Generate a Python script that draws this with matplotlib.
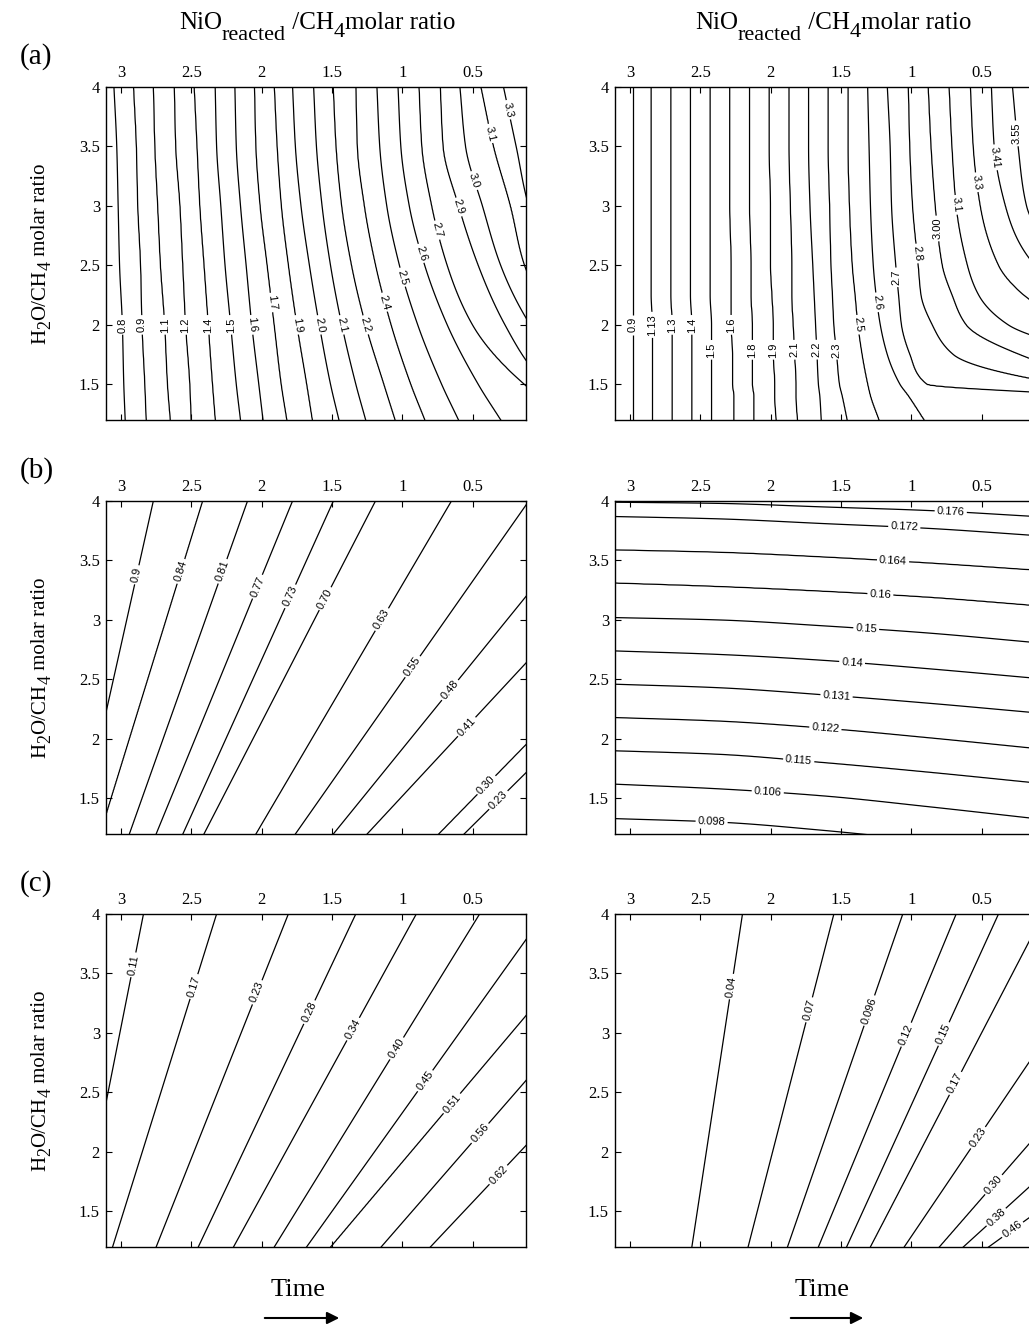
import numpy as np
import matplotlib.pyplot as plt
from matplotlib.patches import FancyArrowPatch

plt.rcParams['font.family'] = ['Liberation Serif', 'DejaVu Serif']

# axis ticks shared by all six panels
x_ticks = [3, 2.5, 2, 1.5, 1, 0.5]
x_ticklabels = ['3', '2.5', '2', '1.5', '1', '0.5']
y_ticks = [1.5, 2, 2.5, 3, 3.5, 4]
y_ticklabels = ['1.5', '2', '2.5', '3', '3.5', '4']

# ---- (a) left: x position of each contour at the rows y = a1_rows
a1_rows = [4.0, 3.5, 3.0, 2.5, 2.0, 1.5, 1.2]
a1_levels = [0.8, 0.9, 1.1, 1.2, 1.4, 1.5, 1.6, 1.7, 1.9, 2.0, 2.1, 2.2, 2.4, 2.5, 2.6, 2.7, 2.9, 3.0, 3.1, 3.3]
a1_labels = ['0.8', '0.9', '1.1', '1.2', '1.4', '1.5', '1.6', '1.7', '1.9', '2.0', '2.1', '2.2', '2.4', '2.5', '2.6',
             '2.7', '2.9', '3.0', '3.1', '3.3']
a1_x = [
    [3.05, 3.03, 3.02, 3.01, 2.99, 2.98, 2.97],
    [2.91, 2.89, 2.88, 2.86, 2.85, 2.83, 2.82],
    [2.77, 2.76, 2.74, 2.72, 2.69, 2.67, 2.65],
    [2.62, 2.61, 2.58, 2.56, 2.54, 2.51, 2.50],
    [2.48, 2.46, 2.44, 2.41, 2.38, 2.35, 2.33],
    [2.33, 2.32, 2.29, 2.26, 2.22, 2.18, 2.15],
    [2.19, 2.18, 2.15, 2.11, 2.07, 2.02, 1.99],
    [2.05, 2.04, 2.01, 1.96, 1.91, 1.86, 1.82],
    [1.91, 1.89, 1.86, 1.81, 1.75, 1.68, 1.64],
    [1.78, 1.76, 1.72, 1.66, 1.59, 1.51, 1.45],
    [1.63, 1.61, 1.57, 1.51, 1.43, 1.33, 1.26],
    [1.49, 1.47, 1.43, 1.36, 1.26, 1.13, 1.05],
    [1.33, 1.32, 1.27, 1.19, 1.08, 0.94, 0.84],
    [1.18, 1.16, 1.11, 1.02, 0.89, 0.72, 0.60],
    [1.03, 1.01, 0.95, 0.84, 0.68, 0.46, 0.30],
    [0.88, 0.86, 0.79, 0.68, 0.50, 0.13, -0.27],
    [0.73, 0.71, 0.60, 0.46, 0.27, -0.02, -0.41],
    [0.59, 0.55, 0.43, 0.30, 0.09, -0.27, -0.69],
    [0.44, 0.35, 0.23, 0.13, -0.12, -0.55, -0.98],
    [0.28, 0.19, 0.10, -0.12, -0.55, -1.12, -1.55],
]
a1_label_xy = [(2.99, 2.00), (2.85, 2.00), (2.70, 2.00), (2.54, 2.00), (2.38, 2.00), (2.22, 2.00), (2.07, 2.00),
               (1.92, 2.19), (1.75, 2.00), (1.59, 2.00), (1.43, 2.00), (1.26, 2.00), (1.13, 2.19), (1.00, 2.40),
               (0.87, 2.60), (0.74, 2.80), (0.60, 2.99), (0.47, 3.22), (0.37, 3.61), (0.24, 3.81)]

# ---- (a) right
a2_rows = [4.0, 3.5, 3.0, 2.5, 2.25, 2.0, 1.75, 1.5, 1.4, 1.2]
a2_levels = [0.9, 1.13, 1.3, 1.4, 1.5, 1.6, 1.8, 1.9, 2.1, 2.2, 2.3, 2.5, 2.6, 2.7, 2.8, 3.0, 3.1, 3.3, 3.41, 3.55]
a2_labels = ['0.9', '1.13', '1.3', '1.4', '1.5', '1.6', '1.8', '1.9', '2.1', '2.2', '2.3', '2.5', '2.6', '2.7', '2.8',
             '3.00', '3.1', '3.3', '3.41', '3.55']
a2_x = [
    [2.98, 2.98, 2.98, 2.98, 2.98, 2.98, 2.98, 2.98, 2.98, 2.98],
    [2.85, 2.85, 2.85, 2.85, 2.85, 2.84, 2.84, 2.84, 2.84, 2.84],
    [2.71, 2.71, 2.71, 2.71, 2.71, 2.70, 2.70, 2.70, 2.70, 2.70],
    [2.57, 2.57, 2.57, 2.57, 2.57, 2.56, 2.56, 2.56, 2.56, 2.56],
    [2.43, 2.43, 2.43, 2.43, 2.43, 2.42, 2.42, 2.42, 2.42, 2.42],
    [2.29, 2.29, 2.29, 2.28, 2.28, 2.28, 2.27, 2.27, 2.26, 2.26],
    [2.15, 2.15, 2.15, 2.14, 2.14, 2.13, 2.13, 2.13, 2.12, 2.12],
    [2.01, 2.01, 2.00, 2.00, 1.99, 1.98, 1.98, 1.97, 1.97, 1.96],
    [1.87, 1.87, 1.86, 1.85, 1.85, 1.84, 1.83, 1.82, 1.82, 1.81],
    [1.73, 1.73, 1.72, 1.70, 1.69, 1.68, 1.67, 1.66, 1.65, 1.64],
    [1.59, 1.59, 1.58, 1.57, 1.56, 1.55, 1.53, 1.51, 1.49, 1.455],
    [1.45, 1.45, 1.44, 1.42, 1.40, 1.38, 1.35, 1.31, 1.29, 1.23],
    [1.31, 1.30, 1.29, 1.27, 1.25, 1.22, 1.17, 1.08, 1.02, 0.91],
    [1.17, 1.15, 1.14, 1.11, 1.09, 1.07, 1.01, 0.89, -0.34, -1.76],
    [1.02, 1.01, 0.99, 0.95, 0.93, 0.85, 0.70, -0.09, -1.05, -2.47],
    [0.88, 0.86, 0.83, 0.78, 0.71, 0.61, 0.23, -0.62, -1.76, -3.18],
    [0.73, 0.71, 0.68, 0.60, 0.52, 0.31, -0.34, -1.40, -2.12, -3.54],
    [0.58, 0.56, 0.51, 0.38, 0.20, -0.19, -1.05, -1.76, -2.47, -3.90],
    [0.43, 0.41, 0.33, 0.12, -0.34, -1.05, -1.76, -2.47, -3.18, -4.61],
    [0.28, 0.24, 0.18, -0.19, -1.05, -1.76, -2.47, -3.18, -3.90, -5.32],
]
a2_label_xy = [(2.96, 2.00), (2.83, 2.00), (2.69, 2.00), (2.55, 2.00), (2.42, 1.79), (2.27, 2.00), (2.13, 1.79),
               (1.99, 1.79), (1.84, 1.79), (1.70, 1.79), (1.54, 1.79), (1.39, 2.00), (1.24, 2.19), (1.10, 2.40),
               (0.96, 2.60), (0.82, 2.81), (0.67, 3.01), (0.53, 3.20), (0.39, 3.41), (0.25, 3.61)]

# ---- (b) left: x of each contour at y = 4.0 and y = 1.2
b1_rows = [4.0, 1.2]
b1_levels = [0.9, 0.84, 0.81, 0.77, 0.73, 0.70, 0.63, 0.55, 0.48, 0.41, 0.30, 0.23]
b1_labels = ['0.9', '0.84', '0.81', '0.77', '0.73', '0.70', '0.63', '0.55', '0.48', '0.41', '0.30', '0.23']
b1_x = [[2.77, 3.30], [2.42, 3.15], [2.10, 2.94], [1.78, 2.75], [1.49, 2.56], [1.19, 2.41],
        [0.65, 2.04], [0.10, 1.76], [-0.43, 1.49], [-0.95, 1.25], [-1.57, 0.74], [-1.83, 0.56]]
b1_label_xy = [(2.89, 3.38), (2.58, 3.41), (2.28, 3.41), (2.03, 3.28), (1.80, 3.20), (1.55, 3.18),
               (1.14, 3.00), (0.93, 2.61), (0.66, 2.41), (0.54, 2.10), (0.40, 1.61), (0.32, 1.49)]

# ---- (b) right: y of each contour at the columns x = b2_cols
b2_cols = [3.12, 2.37, 1.62, 0.88, 0.12]
b2_levels = [0.176, 0.172, 0.164, 0.16, 0.15, 0.14, 0.131, 0.122, 0.115, 0.106, 0.098]
b2_labels = ['0.176', '0.172', '0.164', '0.16', '0.15', '0.14', '0.131', '0.122', '0.115', '0.106', '0.098']
b2_y = [
    [3.99, 3.98, 3.95, 3.92, 3.87],
    [3.87, 3.85, 3.81, 3.77, 3.71],
    [3.59, 3.57, 3.53, 3.48, 3.42],
    [3.31, 3.28, 3.24, 3.19, 3.12],
    [3.02, 3.00, 2.95, 2.89, 2.81],
    [2.74, 2.71, 2.66, 2.59, 2.51],
    [2.46, 2.43, 2.37, 2.30, 2.22],
    [2.18, 2.15, 2.09, 2.01, 1.92],
    [1.90, 1.87, 1.80, 1.72, 1.63],
    [1.62, 1.58, 1.52, 1.43, 1.33],
    [1.33, 1.30, 1.23, 1.14, 1.04],
]
b2_label_xy = [(0.72, 3.89), (1.05, 3.77), (1.13, 3.49), (1.22, 3.21), (1.32, 2.93), (1.42, 2.65),
               (1.53, 2.38), (1.61, 2.10), (1.80, 1.82), (2.02, 1.56), (2.42, 1.29)]

# ---- (c) left
c1_rows = [4.0, 1.2]
c1_levels = [0.11, 0.17, 0.23, 0.28, 0.34, 0.40, 0.45, 0.51, 0.56, 0.62]
c1_labels = ['0.11', '0.17', '0.23', '0.28', '0.34', '0.40', '0.45', '0.51', '0.56', '0.62']
c1_x = [[2.84, 3.31], [2.32, 3.06], [1.81, 2.75], [1.33, 2.45], [0.90, 2.20], [0.45, 1.91],
        [-0.01, 1.68], [-0.49, 1.51], [-0.91, 1.15], [-1.43, 0.80]]
c1_label_xy = [(2.90, 3.57), (2.48, 3.39), (2.05, 3.35), (1.67, 3.18), (1.33, 3.02), (1.04, 2.87),
               (0.84, 2.60), (0.65, 2.41), (0.45, 2.16), (0.31, 1.80)]

# ---- (c) right
c2_rows = [4.0, 1.2]
c2_levels = [0.04, 0.07, 0.096, 0.12, 0.15, 0.17, 0.23, 0.30, 0.38, 0.46]
c2_labels = ['0.04', '0.07', '0.096', '0.12', '0.15', '0.17', '0.23', '0.30', '0.38', '0.46']
c2_x = [[2.20, 2.56], [1.55, 2.16], [1.06, 1.88], [0.68, 1.66], [0.38, 1.46], [0.06, 1.29],
        [-0.55, 1.05], [-1.26, 0.80], [-1.97, 0.63], [-2.83, 0.45]]
c2_label_xy = [(2.28, 3.39), (1.71, 3.19), (1.28, 3.18), (1.02, 2.98), (0.75, 2.98), (0.71, 2.59),
               (0.60, 2.18), (0.48, 1.79), (0.41, 1.47), (0.27, 1.33)]

W, H = 1029, 1326
xg = np.linspace(0.10, 3.13, 480)
yg = np.linspace(1.18, 4.02, 420)


def pchip(xp, fp, x):
    # monotone cubic through the read points (smooth contour paths)
    h = np.diff(xp)
    d = np.diff(fp) / h
    m = np.empty_like(fp)
    m[0], m[-1] = d[0], d[-1]
    for k in range(1, len(xp) - 1):
        if d[k - 1] * d[k] > 0:
            w1, w2 = 2 * h[k] + h[k - 1], h[k] + 2 * h[k - 1]
            m[k] = (w1 + w2) / (w1 / d[k - 1] + w2 / d[k])
        else:
            m[k] = 0.0
    i = np.clip(np.searchsorted(xp, x) - 1, 0, len(xp) - 2)
    t = (x - xp[i]) / h[i]
    return ((2 * t**3 - 3 * t**2 + 1) * fp[i] + (t**3 - 2 * t**2 + t) * h[i] * m[i]
            + (-2 * t**3 + 3 * t**2) * fp[i + 1] + (t**3 - t**2) * h[i] * m[i + 1])


def ruled_field(pos, cross, levels, along, across):
    # contour i meets the line at pos[k] at coordinate cross[i][k]
    pos = np.asarray(pos, float)
    cross = np.asarray(cross, float)
    levels = np.asarray(levels, float)
    o = np.argsort(pos)
    C = np.array([pchip(pos[o], ci[o], across) for ci in cross])
    Z = np.empty((len(across), len(along)))
    for j in range(len(across)):
        k = np.argsort(C[:, j])
        c, z = C[k, j], levels[k]
        lo = z[0] - 50 * (z[1] - z[0]) / (c[1] - c[0])
        hi = z[-1] + 50 * (z[-1] - z[-2]) / (c[-1] - c[-2])
        Z[j] = np.interp(along, np.r_[c[0] - 50, c, c[-1] + 50], np.r_[lo, z, hi])
    return Z


def draw_panel(ax, kind, pos, cross, levels, labels, label_xy):
    if kind == 'rows':
        Z = ruled_field(pos, cross, levels, xg, yg)
    else:
        Z = ruled_field(pos, cross, levels, yg, xg).T
    cs = ax.contour(xg, yg, Z, levels=np.sort(levels), colors='black', linewidths=0.9)
    fmt = dict(zip(levels, labels))
    with plt.rc_context({'font.family': 'Liberation Sans'}):
        ax.clabel(cs, fmt=fmt, manual=label_xy, inline=True, fontsize=8, inline_spacing=2)
    # the original's labels are mirrored (reversed x axis): flip the screen angle
    for t in cs.labelTexts:
        r = (t.get_rotation() + 90) % 180 - 90
        new = -r
        if abs(new) > 84:
            new = 90
        t.set_transform_rotates_text(False)
        t.set_rotation(new)

    ax.set_xlim(3.11, 0.12)
    ax.set_ylim(1.2, 4.0)
    ax.set_xticks(x_ticks)
    ax.set_xticklabels(x_ticklabels)
    ax.set_yticks(y_ticks)
    ax.set_yticklabels(y_ticklabels)
    ax.tick_params(direction='in', top=True, bottom=True, left=True, right=True,
                   labeltop=True, labelbottom=False, length=4, width=0.8, labelsize=12, pad=4)
    for s in ax.spines.values():
        s.set_linewidth(1.0)


def text_run(pieces, center, base, vertical=False):
    # lay out text pieces one after another; subscripts are nearly full size
    renderer = fig.canvas.get_renderer()
    arts, widths = [], []
    for txt, fs, drop in pieces:
        t = fig.text(0, 0, txt, fontsize=fs, ha='left', va='baseline', rotation_mode='anchor')
        arts.append(t)
        widths.append(t.get_window_extent(renderer).width)
    pos = center - sum(widths) / 2
    for t, w, (txt, fs, drop) in zip(arts, widths, pieces):
        if vertical:
            t.set_rotation(90)
            t.set_position(((base + drop) / W, pos / H))
        else:
            t.set_position((pos / W, 1 - (base + drop) / H))
        pos += w


fig = plt.figure(figsize=(W / 100, H / 100), dpi=100)

tops = [87, 501, 914]
lefts = [105.5, 614.5]
aw, ah = 420.5, 333

panels = [
    [('rows', a1_rows, a1_x, a1_levels, a1_labels, a1_label_xy),
     ('rows', a2_rows, a2_x, a2_levels, a2_labels, a2_label_xy)],
    [('rows', b1_rows, b1_x, b1_levels, b1_labels, b1_label_xy),
     ('cols', b2_cols, b2_y, b2_levels, b2_labels, b2_label_xy)],
    [('rows', c1_rows, c1_x, c1_levels, c1_labels, c1_label_xy),
     ('rows', c2_rows, c2_x, c2_levels, c2_labels, c2_label_xy)],
]

ylab = [('H', 15, 0), ('2', 13, 5.5), ('O/CH', 15, 0), ('4', 13, 5.5), (' molar ratio', 15, 0)]
for r, top in enumerate(tops):
    for c, left in enumerate(lefts):
        ax = fig.add_axes([left / W, 1 - (top + ah) / H, aw / W, ah / H])
        draw_panel(ax, *panels[r][c])
    text_run(ylab, H - (top + ah / 2), 45, vertical=True)
    fig.text(20 / W, 1 - (top - 30) / H, '(' + 'abc'[r] + ')', ha='left', va='center', fontsize=21)

# column titles
title = [('NiO', 18, 0), ('reacted', 16, 11), (' /CH', 18, 0), ('4', 16, 8), ('molar ratio', 18, 0)]
for cx in [317, 833]:
    text_run(title, cx, 29)

for cx, x0, x1 in [(298, 262, 342), (822, 788, 866)]:
    fig.text(cx / W, 1 - 1290 / H, 'Time', ha='center', va='center', fontsize=19)
    fig.add_artist(FancyArrowPatch((x0 / W, 1 - 1318 / H), (x1 / W, 1 - 1318 / H),
                                   transform=fig.transFigure, arrowstyle='-|>',
                                   mutation_scale=18, lw=1.5, color='black'))

fig.savefig('out.png', dpi=100)
